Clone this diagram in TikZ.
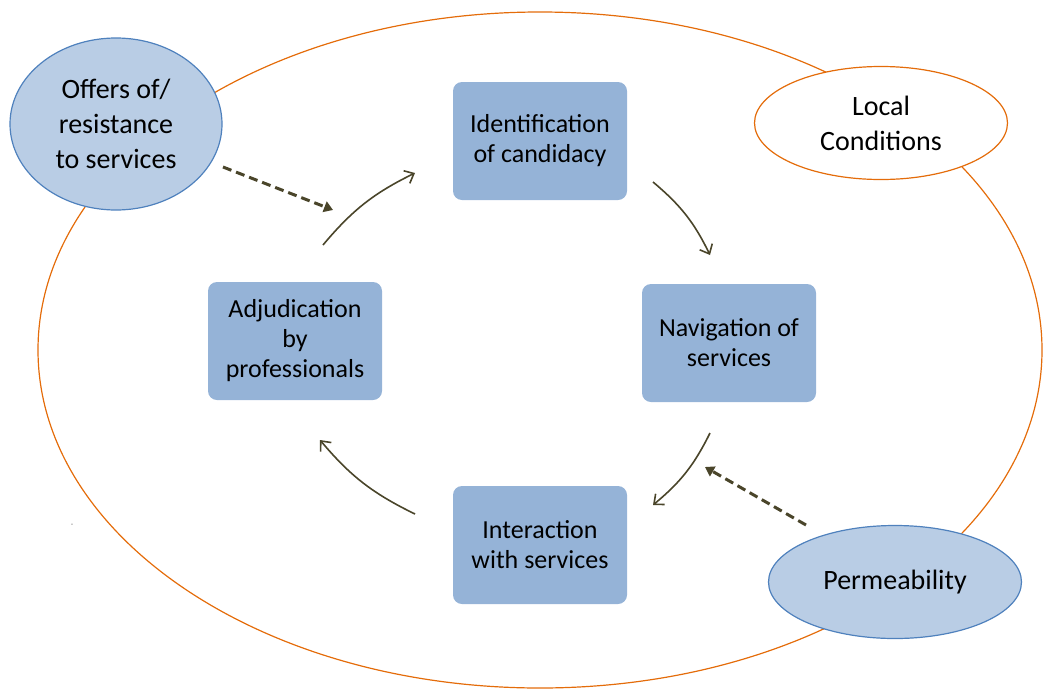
\documentclass[tikz,border=0pt]{standalone}
\usepackage{fontspec}
\setmainfont{Carlito}
\usetikzlibrary{shapes.geometric,arrows.meta}
\definecolor{boxfill}{RGB}{149,179,215}
\definecolor{ellfill}{RGB}{185,205,229}
\definecolor{ellline}{RGB}{79,129,189}
\definecolor{orangeline}{RGB}{228,108,10}
\definecolor{arrowcol}{RGB}{74,69,42}
\tikzset{
  x=1pt,y=-1pt,
  stagebox/.style={draw=none,fill=boxfill,rounded corners=9pt,minimum width=174pt,minimum height=118pt,align=center,font=\fontsize{26}{30}\selectfont,inner sep=0pt},
  blueell/.style={ellipse,draw=ellline,line width=1.2pt,fill=ellfill,align=center,font=\fontsize{28}{35}\selectfont,inner sep=0pt},
  orangeell/.style={ellipse,draw=orangeline,line width=1.2pt,fill=white,align=center,font=\fontsize{28}{35}\selectfont,inner sep=0pt},
  cyclearrow/.style={draw=arrowcol,line width=1.6pt,-{Straight Barb[length=8pt,width=14pt]}},
  influence/.style={draw=arrowcol,line width=3pt,dash pattern=on 9pt off 5pt,-{Triangle[length=9pt,width=11pt]}}
}
\begin{document}
\begin{tikzpicture}
\useasboundingbox (0,0) rectangle (1047,691);
% outer ellipse
\draw[orangeline,line width=1.2pt] (540,350) ellipse [x radius=502,y radius=338];
% stage boxes
\node[stagebox] (ident) at (540,141) {Identification\\of candidacy};
\node[stagebox] (nav) at (729,343) {Navigation of\\services};
\node[stagebox] (inter) at (540,545) {Interaction\\with services};
\node[stagebox] (adj) at (295,341) {Adjudication\\by\\professionals};
% context ellipses
\node[blueell,minimum width=212pt,minimum height=172pt] (offers) at (116,124) {Offers of/\\resistance\\to services};
\node[orangeell,minimum width=253pt,minimum height=113pt] (local) at (881,123) {Local\\Conditions};
\node[blueell,minimum width=253pt,minimum height=113pt] (perm) at (895,582) {Permeability};
% cycle arrows
\coordinate (a1s) at (323,245); \coordinate (a1e) at (415,173);
\coordinate (a2s) at (653,182); \coordinate (a2e) at (710,255);
\coordinate (a3s) at (710,433); \coordinate (a3e) at (653,505);
\coordinate (a4s) at (415,514); \coordinate (a4e) at (320,440);
\draw[cyclearrow] (a1s) to[bend left=12] (a1e);
\draw[cyclearrow] (a2s) to[bend left=12] (a2e);
\draw[cyclearrow] (a3s) to[bend left=12] (a3e);
\draw[cyclearrow] (a4s) to[bend left=12] (a4e);
% influence arrows
\coordinate (d1s) at (223,167); \coordinate (d1e) at (333,210);
\coordinate (d2s) at (806,525); \coordinate (d2e) at (705,467);
\draw[influence] (d1s) -- (d1e);
\draw[influence] (d2s) -- (d2e);
\node[font=\fontsize{5}{6}\selectfont,text=black!70,inner sep=0pt] (star) at (72,526) {*};
\end{tikzpicture}
\end{document}
